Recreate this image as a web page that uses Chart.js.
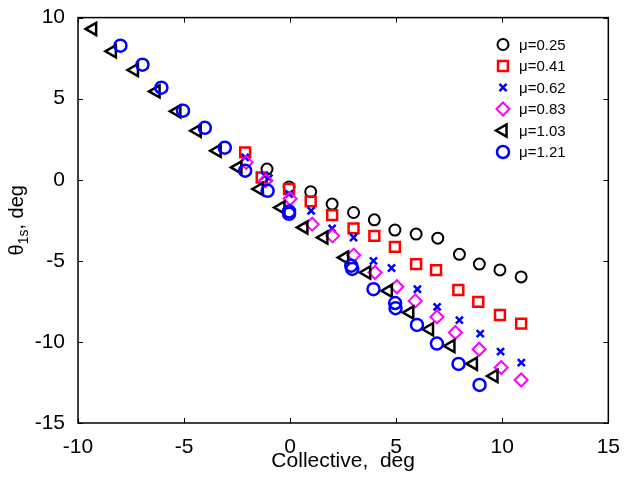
<!DOCTYPE html>
<html>
<head>
<meta charset="utf-8">
<script src="https://cdn.jsdelivr.net/npm/chart.js@4.4.1/dist/chart.umd.min.js"></script>
<style>
html, body { margin: 0; padding: 0; background: #fff; }
</style>
</head>
<body>
<canvas id="chart" width="624" height="477"></canvas>
<script>
// series labels
const muLabels = ["\u03bc=0.25", "\u03bc=0.41", "\u03bc=0.62", "\u03bc=0.83", "\u03bc=1.03", "\u03bc=1.21"];

// mu = 0.25 (black circles)
const x025 = [-1.09, -0.05, 0.97, 1.98, 2.99, 3.97, 4.94, 5.94, 6.96, 7.98, 8.92, 9.89, 10.89];
const y025 = [0.66, -0.45, -0.74, -1.5, -2.02, -2.47, -3.1, -3.35, -3.6, -4.6, -5.2, -5.56, -5.99];

// mu = 0.41 (red squares)
const x041 = [-2.12, -1.34, -0.05, 0.97, 1.98, 2.99, 3.97, 4.94, 5.94, 6.88, 7.93, 8.87, 9.89, 10.89];
const y041 = [1.69, 0.14, -0.57, -1.33, -2.18, -3.0, -3.46, -4.14, -5.2, -5.57, -6.8, -7.53, -8.34, -8.87];

// mu = 0.62 (blue crosses)
const x062 = [-2.12, -1.2, -1.0, -0.05, 0.99, 1.98, 2.99, 3.93, 4.78, 6.0, 6.93, 7.98, 8.96, 9.92, 10.9];
const y062 = [1.38, 0.25, 0.1, -0.88, -1.91, -3.0, -3.56, -5.0, -5.44, -6.75, -7.84, -8.66, -9.49, -10.6, -11.28];

// mu = 0.83 (magenta diamonds)
const x083 = [-2.07, -1.15, 0.0, 1.04, 2.0, 3.0, 4.0, 5.03, 5.9, 6.92, 7.79, 8.91, 9.95, 10.89];
const y083 = [1.07, -0.05, -1.17, -2.74, -3.46, -4.65, -5.72, -6.6, -7.47, -8.46, -9.42, -10.45, -11.58, -12.35];

// mu = 1.03 (black left triangles)
const x103 = [-9.31, -8.38, -7.34, -6.32, -5.34, -4.38, -3.44, -2.46, -1.45, -0.43, 0.65, 1.59, 2.57, 3.61, 4.63, 5.64, 6.57, 7.58, 8.64, 9.61];
const y103 = [9.3, 7.92, 6.77, 5.45, 4.22, 3.02, 1.79, 0.76, -0.57, -1.71, -2.94, -3.56, -4.8, -5.72, -6.85, -8.19, -9.22, -10.25, -11.34, -12.1];

// mu = 1.21 (blue circles)
const x121 = [-8.0, -6.96, -6.07, -5.05, -4.02, -3.08, -2.12, -1.06, -0.05, -0.05, 2.88, 2.93, 3.93, 4.95, 4.97, 5.98, 6.92, 7.94, 8.93];
const y121 = [8.27, 7.1, 5.68, 4.26, 3.2, 1.98, 0.56, -0.68, -1.95, -2.1, -5.3, -5.5, -6.75, -7.6, -7.92, -8.95, -10.1, -11.36, -12.65];

const xTicks = [-10, -5, 0, 5, 10, 15];
const yTicks = [-15, -10, -5, 0, 5, 10];

const FONT = "'Liberation Sans', Arial, sans-serif";

function toPoints(xs, ys) {
    return xs.map((x, i) => ({ x: x, y: ys[i] }));
}

const seriesStyles = [
    { color: "#000000", pointStyle: "circle", radius: 5.5, lw: 2, rot: 0 },
    { color: "#ff0000", pointStyle: "rect", radius: 7, lw: 2.5, rot: 0 },
    { color: "#0000ff", pointStyle: "crossRot", radius: 5, lw: 2.5, rot: 0 },
    { color: "#ff00ff", pointStyle: "rectRot", radius: 6.5, lw: 2, rot: 0 },
    { color: "#000000", pointStyle: "triangle", radius: 7, lw: 2.5, rot: -90 },
    { color: "#0000ff", pointStyle: "circle", radius: 6, lw: 2.5, rot: 0 }
];

const allX = [x025, x041, x062, x083, x103, x121];
const allY = [y025, y041, y062, y083, y103, y121];

const datasets = muLabels.map((lab, i) => ({
    label: lab,
    data: toPoints(allX[i], allY[i]),
    pointStyle: seriesStyles[i].pointStyle,
    pointRadius: seriesStyles[i].radius,
    pointHoverRadius: seriesStyles[i].radius,
    pointRotation: seriesStyles[i].rot,
    borderColor: seriesStyles[i].color,
    backgroundColor: "rgba(0,0,0,0)",
    pointBorderWidth: seriesStyles[i].lw,
    borderWidth: seriesStyles[i].lw,
    showLine: false,
    order: 5 - i   // later series drawn on top, like the original
}));

// box + inward tick marks
const frame = {
    id: "frame",
    afterDatasetsDraw(chart) {
        const { ctx, chartArea: { left, right, top, bottom }, scales: { x, y } } = chart;
        ctx.save();
        ctx.strokeStyle = "#000";
        ctx.lineWidth = 1.5;
        ctx.strokeRect(left, top, right - left, bottom - top);
        ctx.lineWidth = 1;
        const len = 5;
        ctx.beginPath();
        for (const v of xTicks) {
            const px = Math.round(x.getPixelForValue(v)) + 0.5;
            ctx.moveTo(px, bottom); ctx.lineTo(px, bottom - len);
            ctx.moveTo(px, top); ctx.lineTo(px, top + len);
        }
        for (const v of yTicks) {
            const py = Math.round(y.getPixelForValue(v)) + 0.5;
            ctx.moveTo(left, py); ctx.lineTo(left + len, py);
            ctx.moveTo(right, py); ctx.lineTo(right - len, py);
        }
        ctx.stroke();
        ctx.restore();
    }
};

// y title with subscript
const yTitle = {
    id: "yTitle",
    afterDraw(chart) {
        const { ctx, chartArea: { top, bottom } } = chart;
        const parts = [
            { t: "\u03b8", size: 20, dy: 0 },
            { t: "1s", size: 14, dy: 5 },
            { t: ", deg", size: 20, dy: 0 }
        ];
        ctx.save();
        ctx.translate(23, (top + bottom) / 2);
        ctx.rotate(-Math.PI / 2);
        ctx.fillStyle = "#000";
        ctx.textBaseline = "alphabetic";
        let total = 0;
        for (const p of parts) {
            ctx.font = p.size + "px " + FONT;
            p.w = ctx.measureText(p.t).width;
            total += p.w;
        }
        let cx = -total / 2;
        for (const p of parts) {
            ctx.font = p.size + "px " + FONT;
            ctx.fillText(p.t, cx, p.dy);
            cx += p.w;
        }
        ctx.restore();
    }
};

// legend inside the plot, top right
const innerLegend = {
    id: "innerLegend",
    afterDraw(chart) {
        const { ctx } = chart;
        const mx = 503, tx = 519, y0 = 44.5, dy = 21.5;
        ctx.save();
        ctx.font = "15px " + FONT;
        ctx.textBaseline = "middle";
        muLabels.forEach((lab, i) => {
            const s = seriesStyles[i];
            const yy = y0 + i * dy;
            ctx.strokeStyle = s.color;
            ctx.fillStyle = "rgba(0,0,0,0)";
            ctx.lineWidth = s.lw;
            Chart.helpers.drawPoint(ctx, {
                pointStyle: s.pointStyle,
                radius: s.radius,
                rotation: s.rot,
                borderWidth: s.lw
            }, mx, yy);
            ctx.fillStyle = "#000";
            ctx.fillText(lab, tx, yy + 1);
        });
        ctx.restore();
    }
};

new Chart(document.getElementById("chart"), {
    type: "scatter",
    data: { datasets: datasets },
    options: {
        responsive: false,
        animation: false,
        layout: { padding: { left: 0, right: 12, top: 17, bottom: 0 } },
        plugins: {
            legend: { display: false },
            tooltip: { enabled: false }
        },
        scales: {
            x: {
                type: "linear",
                min: -10,
                max: 15,
                afterBuildTicks: (scale) => { scale.ticks = xTicks.map(v => ({ value: v })); },
                afterFit: (scale) => { scale.height = 54; },
                grid: { display: false },
                border: { display: false },
                ticks: {
                    color: "#000",
                    padding: 4,
                    maxRotation: 0,
                    font: { family: FONT, size: 21 }
                },
                title: {
                    display: true,
                    text: "Collective,  deg",
                    color: "#000",
                    padding: { top: 0, bottom: 3 },
                    font: { family: FONT, size: 21 }
                }
            },
            y: {
                type: "linear",
                min: -15,
                max: 10,
                afterBuildTicks: (scale) => { scale.ticks = yTicks.map(v => ({ value: v })); },
                afterFit: (scale) => { scale.width = 78; },
                grid: { display: false },
                border: { display: false },
                ticks: {
                    color: "#000",
                    padding: 5,
                    font: { family: FONT, size: 21 }
                }
            }
        }
    },
    plugins: [frame, yTitle, innerLegend]
});
</script>
</body>
</html>
